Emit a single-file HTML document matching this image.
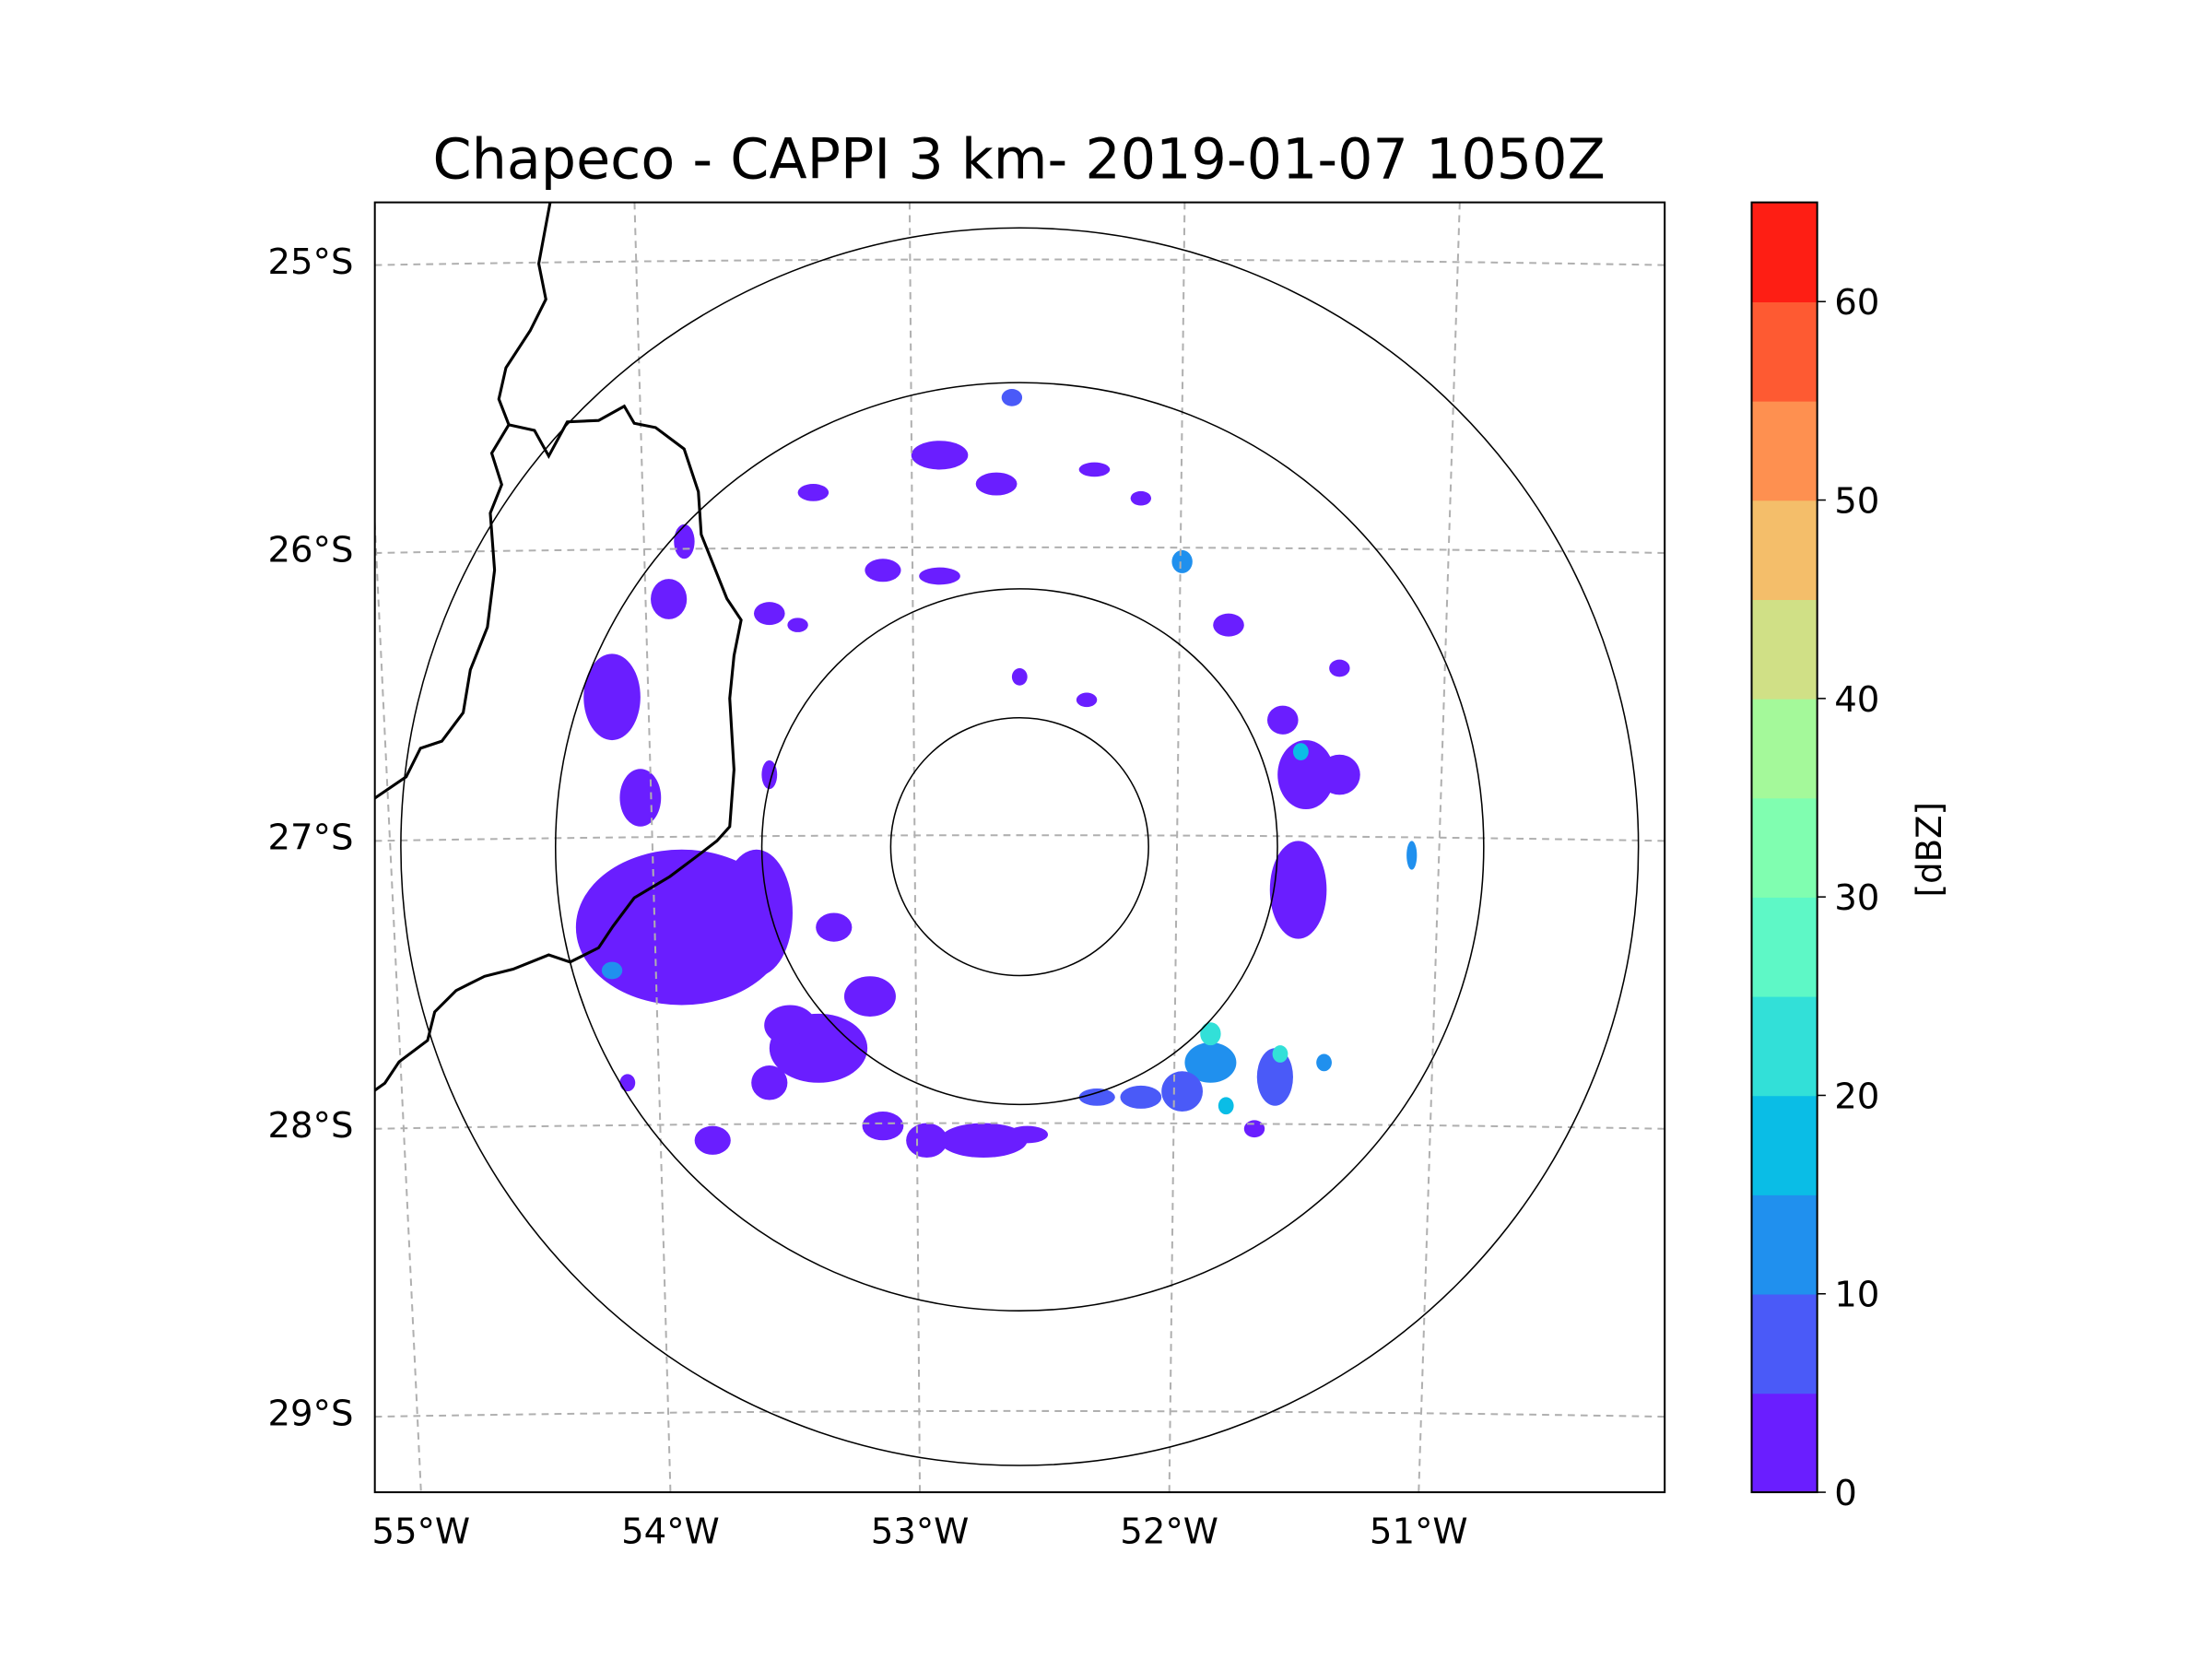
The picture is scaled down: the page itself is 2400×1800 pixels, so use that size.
<!DOCTYPE html>
<html><head><meta charset="utf-8"><style>
html,body{margin:0;padding:0;background:#fff}
svg{display:block}
text{font-family:"DejaVu Sans","Liberation Sans",sans-serif;fill:#000}
</style></head><body>
<svg id="chart" width="2400" height="1800" viewBox="0 0 1552 1164" xmlns="http://www.w3.org/2000/svg">
<rect width="1552" height="1164" fill="#fff"/>
<text x="715" y="125" font-size="39" text-anchor="middle">Chapeco - CAPPI 3 km- 2019-01-07 1050Z</text>
<defs><clipPath id="clip"><rect x="263" y="142" width="905" height="905"/></clipPath></defs>
<g id="plot" clip-path="url(#clip)"></g>
<rect x="263" y="142" width="905" height="905" fill="none" stroke="#000" stroke-width="1.3"/>
<g id="axes"></g>
<g id="cbar"></g>
<text transform="translate(1362,596) rotate(-90)" font-size="24" text-anchor="middle">[dBZ]</text>
</svg>
<script>
const lonTicks = [-55, -54, -53, -52, -51];
const lonTickLabels = ["55°W", "54°W", "53°W", "52°W", "51°W"];
const latTicks = [-25, -26, -27, -28, -29];
const latTickLabels = ["25°S", "26°S", "27°S", "28°S", "29°S"];
const ringRadiiKm = [100, 200, 360, 480];
const radarLon = -52.60;
const radarLat = -27.03;
const cbarBounds = [0,5,10,15,20,25,30,35,40,45,50,55,60,65];
const cbarColors = ["#6a1eff","#4a5af8","#2090ee","#0abde6","#32e0d8","#5ef8c6","#80feb0","#a4f99a","#d0e086","#f4be6a","#fe9050","#fe5a32","#fe1e14"];
const cbarTicks = [0,10,20,30,40,50,60];
const echoLon = [-53.91,-53.62,-53.38,-53.49,-53.57,-53.18,-54.18,-54.07,-53.96,-53.90,-51.52,-51.49,-51.36,-51.58,-51.86,-51.61,-51.97,-52.13,-52.30,-51.69,-51.80,-52.74,-52.96,-53.13,-53.79,-52.57,-52.91,-52.63,-52.69,-53.13,-52.91,-51.97,-53.40,-52.31,-53.57,-51.79,-52.34,-52.60,-53.32,-53.57,-51.42,-51.08,-51.86,-51.59,-51.51,-54.18,-51.36,-54.12,-53.46,-52.13];
const echoLat = [-27.31,-27.26,-27.73,-27.65,-27.85,-27.55,-26.51,-26.86,-26.17,-25.97,-27.18,-26.78,-26.78,-26.59,-27.78,-27.83,-27.88,-27.90,-27.90,-28.01,-27.93,-28.05,-28.05,-28.00,-28.05,-28.03,-25.67,-25.47,-25.77,-26.07,-26.09,-26.04,-25.80,-25.72,-26.22,-26.26,-26.52,-26.44,-27.31,-26.78,-27.78,-27.06,-27.68,-27.75,-26.70,-27.46,-26.41,-27.85,-26.26,-25.82];
const echoHalfW = [0.41,0.14,0.19,0.10,0.07,0.10,0.11,0.08,0.07,0.04,0.11,0.11,0.08,0.06,0.10,0.07,0.08,0.08,0.07,0.04,0.03,0.17,0.08,0.08,0.07,0.08,0.11,0.04,0.08,0.07,0.08,0.04,0.06,0.06,0.06,0.06,0.04,0.03,0.07,0.03,0.03,0.02,0.04,0.03,0.03,0.04,0.04,0.03,0.04,0.04];
const echoHalfH = [0.27,0.22,0.12,0.07,0.06,0.07,0.15,0.10,0.07,0.06,0.17,0.12,0.07,0.05,0.07,0.10,0.07,0.04,0.03,0.03,0.03,0.06,0.06,0.05,0.05,0.03,0.05,0.03,0.04,0.04,0.03,0.04,0.03,0.025,0.04,0.04,0.025,0.03,0.05,0.05,0.03,0.05,0.04,0.03,0.03,0.03,0.03,0.03,0.025,0.025];
const echoDbz = [2,2,2,2,2,2,2,2,2,2,2,2,2,2,12,8,6,8,6,3,18,2,2,2,2,2,2,8,2,2,2,10,2,2,2,2,2,2,2,2,10,10,20,20,18,12,2,2,2,2];

const NS="http://www.w3.org/2000/svg";
function xOf(lon){return 643+(lon+53)*181;}
function yOf(lat){return 588-(lat+27)*202;}
function kmToPx(km){return km*0.9045;}
function el(tag,attrs,parent){const e=document.createElementNS(NS,tag);for(const k in attrs)e.setAttribute(k,attrs[k]);parent.appendChild(e);return e;}
function colorFor(v){for(let i=0;i<cbarColors.length;i++){if(v<cbarBounds[i+1])return cbarColors[i];}return cbarColors[cbarColors.length-1];}
const plot=document.getElementById('plot');
const axes=document.getElementById('axes');
const cbar=document.getElementById('cbar');

echoLon.forEach((lo,i)=>{
  const e=el('ellipse',{cx:xOf(lo),cy:yOf(echoLat[i]),rx:echoHalfW[i]*181,ry:echoHalfH[i]*202,fill:colorFor(echoDbz[i])},plot);
  
  
});
lonTicks.forEach((lo,i)=>{
  const xb=xOf(lo), dx=(lo+52.6)*-12;
  const p=el('line',{x1:xb-dx,y1:142,x2:xb+dx*0.5,y2:1047,stroke:'#b0b0b0','stroke-width':1.3,'stroke-dasharray':'5,4'},plot);
  
  
});
latTicks.forEach((la,i)=>{
  const y=yOf(la)-1;
  const p=el('path',{d:`M263 ${y+3} Q715 ${y-5} 1168 ${y+3}`,fill:'none',stroke:'#b0b0b0','stroke-width':1.3,'stroke-dasharray':'5,4'},plot);
  
  
});
ringRadiiKm.forEach(r=>{
  const c=el('circle',{cx:xOf(radarLon),cy:yOf(radarLat),r:kmToPx(r),fill:'none',stroke:'#000','stroke-width':1},plot);
  
  
});
const b1=el('path',{d:'M386 142 L378 185 L383 210 L372 232 L355 258 L350 280 L357 298 L345 318 L352 340 L344 360 L347 400 L342 440 L330 470 L325 500 L310 520 L295 525 L285 545 L263 560',fill:'none',stroke:'#000','stroke-width':2},plot);


const b2=el('path',{d:'M357 298 L375 302 L385 320 L398 296 L420 295 L438 285 L445 297 L460 300 L480 315 L490 345 L492 375 L500 395 L510 420 L520 435 L515 460 L512 490 L515 540 L512 580 L503 590 L490 600 L470 615 L445 630 L430 650 L420 665 L400 675 L385 670 L360 680 L340 685 L320 695 L305 710 L300 730 L280 745 L270 760 L263 765',fill:'none',stroke:'#000','stroke-width':2},plot);


lonTicks.forEach((lo,i)=>{
  const t=el('text',{x:xOf(lo)+(lo+52.6)*-6,y:1083,'font-size':25,'text-anchor':'middle'},axes);
  t.textContent=lonTickLabels[i];
  
  
});
latTicks.forEach((la,i)=>{
  const t=el('text',{x:248,y:yOf(la)+8,'font-size':25,'text-anchor':'end'},axes);
  t.textContent=latTickLabels[i];
  
  
});
const cTop=142,cBot=1047,cx0=1229,cw=46;
function cy(v){return cBot-(v-cbarBounds[0])/(cbarBounds[cbarBounds.length-1]-cbarBounds[0])*(cBot-cTop);}
cbarColors.forEach((c,i)=>{
  const r=el('rect',{x:cx0,y:cy(cbarBounds[i+1]),width:cw,height:cy(cbarBounds[i])-cy(cbarBounds[i+1])+0.5,fill:c},cbar);
  
  
});
const fr=el('rect',{x:cx0,y:cTop,width:cw,height:cBot-cTop,fill:'none',stroke:'#000','stroke-width':1.3},cbar);


cbarTicks.forEach(v=>{
  const l=el('line',{x1:cx0+cw,y1:cy(v),x2:cx0+cw+6,y2:cy(v),stroke:'#000','stroke-width':1},cbar);
  
  
  const t=el('text',{x:cx0+cw+12,y:cy(v)+9,'font-size':25},cbar);
  t.textContent=String(v);
  
  
});
</script>
</body></html>
